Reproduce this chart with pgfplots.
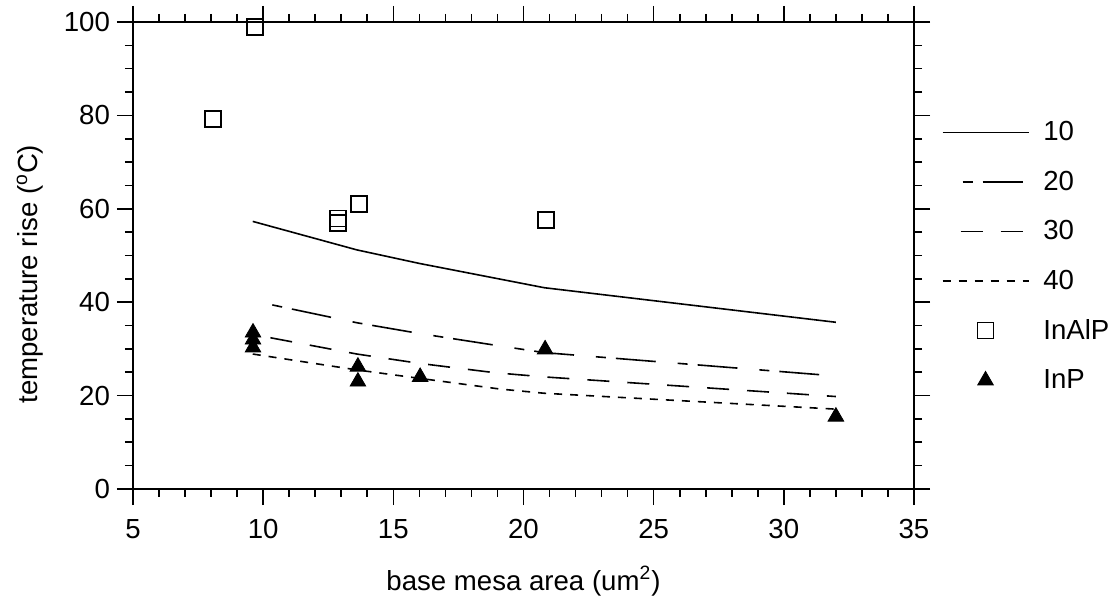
\documentclass[border=0pt]{standalone}
\usepackage{fontspec}
\setmainfont{Liberation Sans}
\usepackage{pgfplots}
\pgfplotsset{compat=1.18}
\begin{document}
\begin{tikzpicture}[font=\fontsize{13.8}{16.5}\selectfont]
\useasboundingbox (-66.5pt,-55.5pt) rectangle (491.5pt,244.5pt);
\begin{axis}[
  at={(0,0)}, anchor=south west,
  scale only axis, width=390.5pt, height=233.5pt,
  xmin=5, xmax=35, ymin=0, ymax=100,
  xtick={5,10,...,35}, ytick={0,20,...,100},
  minor x tick num=4, minor y tick num=3,
  tick align=outside,
  major tick length=8pt, minor tick length=4pt,
  axis line style={line width=0.8pt},
  every tick/.style={black, line width=0.8pt},
  /pgf/number format/assume math mode=true,
  xticklabel style={yshift=-3.5pt},
  xlabel={base mesa area (um\textsuperscript{2})},
  ylabel={temperature rise (\textsuperscript{o}C)},
  xlabel style={at={(axis description cs:0.5,-0.197)}, anchor=center},
  ylabel style={at={(axis description cs:-0.132,0.46)}, anchor=center},
  legend style={at={(1.035,0.801)}, anchor=north west, draw=none, fill=none,
    inner sep=0pt, row sep=7.6pt, nodes={inner sep=3pt}},
  legend cell align=left,
  legend image code/.code={\draw[mark repeat=2,mark phase=2,#1] plot coordinates {(0pt,0pt) (21.5pt,0pt) (43pt,0pt)}; \path (47pt,0pt);},
]
\addplot[black, line width=0.8pt, mark=none] coordinates {
 (9.6,57.3) (13.6,51.2) (16,48.3) (20.8,43.1) (32,35.7)};
\addlegendentry{10}
\addplot[black, line width=0.8pt, mark=none, dash pattern=on 5pt off 5pt on 20pt off 11pt, dash phase=31pt] coordinates {
 (9.6,40.3) (13.6,35.6) (16,33.3) (18.9,30.8) (20.8,29.2) (32,24.2)};
\addlegendentry{20}
\addplot[black, line width=0.8pt, mark=none, dash pattern=on 11pt off 9pt, dash phase=11pt] coordinates {
 (9.6,33.1) (13.6,28.9) (16,26.9) (18.9,24.9) (20.8,24.0) (32,19.8)};
\addlegendentry{30}
\addplot[black, line width=0.8pt, mark=none, dash pattern=on 4pt off 4pt] coordinates {
 (9.6,28.9) (13.6,25.5) (16,23.7) (19.1,21.4) (20.8,20.5) (32,17.1)};
\addlegendentry{40}
\addplot[only marks, mark=square, mark size=4pt, mark options={black, line width=0.7pt, fill=white}] coordinates {
 (8.07,79.2) (9.69,98.9) (12.88,57.9) (12.88,57.0) (13.68,61.0) (20.87,57.6)};
\addlegendentry{InAlP}
\addplot[only marks, mark=triangle*, mark size=4.5pt, mark options={black, fill=black}] coordinates {
 (9.61,33.5) (9.61,32.0) (9.61,30.3) (13.64,26.2) (13.64,23.0) (16.03,24.0) (20.83,29.9) (32.0,15.5)};
\addlegendentry{InP}
\end{axis}
\end{tikzpicture}
\end{document}
